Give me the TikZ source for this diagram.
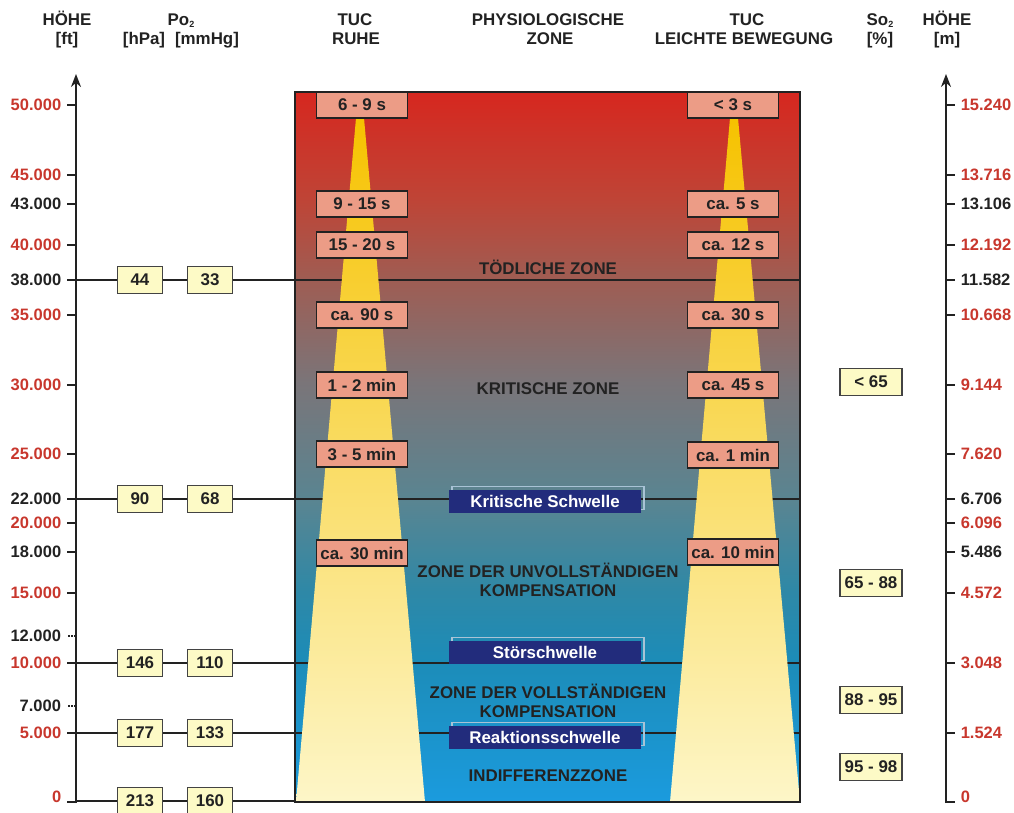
\documentclass[tikz,border=0pt]{standalone}
\usepackage{fontspec}
\setmainfont{Liberation Sans}
\usetikzlibrary{arrows.meta,shadows}
\definecolor{ztop}{HTML}{D6271F}
\definecolor{zrot}{HTML}{BF4436}
\definecolor{zbraun}{HTML}{A05C52}
\definecolor{zgrau}{HTML}{7A7579}
\definecolor{zpetrol}{HTML}{588592}
\definecolor{ztuerkis}{HTML}{2F88A6}
\definecolor{zblau}{HTML}{1C8CB8}
\definecolor{zunten}{HTML}{1B9BDE}
\definecolor{rot}{HTML}{C8372D}
\definecolor{achsgrau}{HTML}{222222}
\definecolor{lachs}{HTML}{EC9C86}
\definecolor{hellgelb}{HTML}{FDFAC6}
\definecolor{navy}{HTML}{222C7C}
\definecolor{schatten}{HTML}{A9C3D6}
\definecolor{kegeloben}{HTML}{F6C200}
\definecolor{kegelmitte}{HTML}{FBE07E}
\definecolor{kegelunten}{HTML}{FDF6C8}
\pgfdeclareverticalshading{zonefill}{100bp}{color(0bp)=(zunten); color(25bp)=(zunten);
  color(35bp)=(zblau); color(40bp)=(ztuerkis); color(46bp)=(zpetrol); color(54.5bp)=(zgrau);
  color(62bp)=(zbraun); color(67.5bp)=(zrot); color(75bp)=(ztop); color(100bp)=(ztop)}
\pgfdeclarelayer{bg}
\pgfsetlayers{bg,main}
\begin{document}
\begin{tikzpicture}[x=1pt, y=-1pt,
  every node/.style={font=\fontsize{16.9}{19}\selectfont\bfseries, inner sep=0pt, text=achsgrau},
  tick/.style={line width=1.6pt, draw=achsgrau},
  punkte/.style={line width=2pt, draw=achsgrau, dash pattern=on 1.6pt off 1.6pt},
  achse/.style={line width=1.8pt, draw=achsgrau, -{Stealth[length=13pt, width=10pt]}},
  ftlabel/.style={anchor=east, xshift=-5pt, font=\fontsize{16.5}{19}\selectfont\bfseries},
  mlabel/.style={anchor=west, xshift=5pt, font=\fontsize{16.5}{19}\selectfont\bfseries},
  hline/.style={line width=1.4pt, draw=achsgrau},
  tuc/.style={draw=achsgrau, line width=1.2pt, fill=lachs, minimum width=91pt, minimum height=26pt},
  wert/.style={draw=achsgrau!85, line width=1.2pt, fill=hellgelb, minimum width=45pt, minimum height=27pt},
  sat/.style={wert, minimum width=62pt},
  schwelle/.style={fill=navy, text=white, minimum width=192pt, minimum height=23pt,
    general shadow={shadow xshift=3pt, shadow yshift=3pt, draw=schatten, fill=none, line width=1.2pt}},
  zone/.style={align=center, font=\fontsize{16.9}{18.5}\selectfont\bfseries},
  kegel/.style={top color=kegeloben, middle color=kegelmitte, bottom color=kegelunten}]
\useasboundingbox (0,0) rectangle (1014,812);

% column heads
\node[anchor=base] (hoeheft) at (67,25) {HÖHE};
\node[anchor=base] (einheitft) at (67,44) {[ft]};
\node[anchor=base] (po) at (181,25) {Po\raisebox{-2pt}{\fontsize{9}{9}\selectfont 2}};
\node[anchor=base] (einheithpa) at (144,44) {[hPa]};
\node[anchor=base] (einheitmmhg) at (207,44) {[mmHg]};
\node[anchor=base] (tucruhe) at (355,25) {TUC};
\node[anchor=base] (ruhe) at (356,44) {RUHE};
\node[anchor=base] (physio) at (548,25) {PHYSIOLOGISCHE};
\node[anchor=base] (zonekopf) at (550,44) {ZONE};
\node[anchor=base] (tucbew) at (747,25) {TUC};
\node[anchor=base] (bewegung) at (744,44) {LEICHTE BEWEGUNG};
\node[anchor=base] (so) at (880,25) {So\raisebox{-2pt}{\fontsize{9}{9}\selectfont 2}};
\node[anchor=base] (prozent) at (880,44) {[\%]};
\node[anchor=base] (hoehem) at (947,25) {HÖHE};
\node[anchor=base] (einheitm) at (947,44) {[m]};

% altitude in ft
\draw[achse] (76,803) -- (76,74);
\draw[tick] (76,105) -- (67,105) node[ftlabel, text=rot] (ft50) {50.000};
\draw[tick] (76,175) -- (67,175) node[ftlabel, text=rot] (ft45) {45.000};
\draw[tick] (76,204) -- (67,204) node[ftlabel] (ft43) {43.000};
\draw[tick] (76,245) -- (67,245) node[ftlabel, text=rot] (ft40) {40.000};
\draw[tick] (76,280) -- (67,280) node[ftlabel] (ft38) {38.000};
\draw[tick] (76,315) -- (67,315) node[ftlabel, text=rot] (ft35) {35.000};
\draw[tick] (76,385) -- (67,385) node[ftlabel, text=rot] (ft30) {30.000};
\draw[tick] (76,454) -- (67,454) node[ftlabel, text=rot] (ft25) {25.000};
\draw[tick] (76,499) -- (67,499) node[ftlabel] (ft22) {22.000};
\draw[tick] (76,523) -- (67,523) node[ftlabel, text=rot] (ft20) {20.000};
\draw[tick] (76,552) -- (67,552) node[ftlabel] (ft18) {18.000};
\draw[tick] (76,593) -- (67,593) node[ftlabel, text=rot] (ft15) {15.000};
\draw[punkte] (76,636) -- (67,636) node[ftlabel] (ft12) {12.000};
\draw[tick] (76,663) -- (67,663) node[ftlabel, text=rot] (ft10) {10.000};
\draw[punkte] (76,706) -- (67,706) node[ftlabel] (ft7) {7.000};
\draw[tick] (76,733) -- (67,733) node[ftlabel, text=rot] (ft5) {5.000};
\draw[tick] (76,802) -- (67,802) node[ftlabel, text=rot, yshift=5pt] (ft0) {0};

% altitude in m
\draw[achse] (946,803) -- (946,74);
\draw[tick] (946,105) -- (955,105) node[mlabel, text=rot] (m15240) {15.240};
\draw[tick] (946,175) -- (955,175) node[mlabel, text=rot] (m13716) {13.716};
\draw[tick] (946,204) -- (955,204) node[mlabel] (m13106) {13.106};
\draw[tick] (946,245) -- (955,245) node[mlabel, text=rot] (m12192) {12.192};
\draw[tick] (946,280) -- (955,280) node[mlabel] (m11582) {11.582};
\draw[tick] (946,315) -- (955,315) node[mlabel, text=rot] (m10668) {10.668};
\draw[tick] (946,385) -- (955,385) node[mlabel, text=rot] (m9144) {9.144};
\draw[tick] (946,454) -- (955,454) node[mlabel, text=rot] (m7620) {7.620};
\draw[tick] (946,499) -- (955,499) node[mlabel] (m6706) {6.706};
\draw[tick] (946,523) -- (955,523) node[mlabel, text=rot] (m6096) {6.096};
\draw[tick] (946,552) -- (955,552) node[mlabel] (m5486) {5.486};
\draw[tick] (946,593) -- (955,593) node[mlabel, text=rot] (m4572) {4.572};
\draw[tick] (946,663) -- (955,663) node[mlabel, text=rot] (m3048) {3.048};
\draw[tick] (946,733) -- (955,733) node[mlabel, text=rot] (m1524) {1.524};
\draw[tick] (946,802) -- (955,802) node[mlabel, text=rot, yshift=5pt] (m0) {0};

% TUC cones
\shade[kegel] (356,118) -- (364,118) -- (425,802) -- (296,802) -- cycle;
\shade[kegel] (730,118) -- (738,118) -- (800,802) -- (670,802) -- cycle;
\draw[line width=1.8pt, draw=achsgrau] (295,92) rectangle (800,802);

% TUC at rest
\node[tuc] (ruhe50) at (362,105) {6 - 9 s};
\node[tuc] (ruhe43) at (362,204) {9 - 15 s};
\node[tuc] (ruhe40) at (362,245) {15 - 20 s};
\node[tuc] (ruhe35) at (362,315) {ca. 90 s};
\node[tuc] (ruhe30) at (362,385) {1 - 2 min};
\node[tuc] (ruhe25) at (362,454) {3 - 5 min};
\node[tuc] (ruhe18) at (362,553) {ca. 30 min};
% TUC light exercise
\node[tuc] (bew50) at (733,105) {< 3 s};
\node[tuc] (bew43) at (733,204) {ca. 5 s};
\node[tuc] (bew40) at (733,245) {ca. 12 s};
\node[tuc] (bew35) at (733,315) {ca. 30 s};
\node[tuc] (bew30) at (733,385) {ca. 45 s};
\node[tuc] (bew25) at (733,455) {ca. 1 min};
\node[tuc] (bew18) at (733,552) {ca. 10 min};

% zones and thresholds
\node (toedlich) at (548,267) {TÖDLICHE ZONE};
\node (kritzone) at (548,389) {KRITISCHE ZONE};
\node[zone] (unvoll) at (548,580) {ZONE DER UNVOLLSTÄNDIGEN\\KOMPENSATION};
\node[zone] (voll) at (548,701) {ZONE DER VOLLSTÄNDIGEN\\KOMPENSATION};
\node (indiff) at (548,776) {INDIFFERENZZONE};
\node[schwelle] (kritisch) at (545,501) {Kritische Schwelle};
\node[schwelle] (stoer) at (545,652) {Störschwelle};
\node[schwelle] (reaktion) at (545,737) {Reaktionsschwelle};

% Po2
\node[wert] (hpa38) at (140,280) {44};
\node[wert] (mmhg38) at (210,280) {33};
\node[wert] (hpa22) at (140,499) {90};
\node[wert] (mmhg22) at (210,499) {68};
\node[wert] (hpa10) at (140,663) {146};
\node[wert] (mmhg10) at (210,663) {110};
\node[wert] (hpa5) at (140,733) {177};
\node[wert] (mmhg5) at (210,733) {133};
\node[wert] (hpa0) at (140,801) {213};
\node[wert] (mmhg0) at (210,801) {160};

% So2
\node[sat] (sat30) at (871,382) {< 65};
\node[sat] (sat15) at (871,583) {65 - 88};
\node[sat] (sat7) at (871,700) {88 - 95};
\node[sat] (sat2) at (871,767) {95 - 98};

\begin{pgfonlayer}{bg}
\shade[shading=zonefill] (295,92) rectangle (800,802);
\coordinate (a38) at (76,280);
\coordinate (r38) at (800,280);
\coordinate (a22) at (76,499);
\coordinate (r22) at (800,499);
\coordinate (a10) at (76,663);
\coordinate (r10) at (800,663);
\coordinate (a5) at (76,733);
\coordinate (r5) at (800,733);
\coordinate (a0) at (76,801);
\coordinate (r0) at (295,801);
\draw[hline] (a38) -- (hpa38) -- (mmhg38) -- (r38);
\draw[hline] (a22) -- (hpa22) -- (mmhg22) -- (r22);
\draw[hline] (a10) -- (hpa10) -- (mmhg10) -- (r10);
\draw[hline] (a5) -- (hpa5) -- (mmhg5) -- (r5);
\draw[hline] (a0) -- (hpa0) -- (mmhg0) -- (r0);
\end{pgfonlayer}
\end{tikzpicture}
\end{document}
